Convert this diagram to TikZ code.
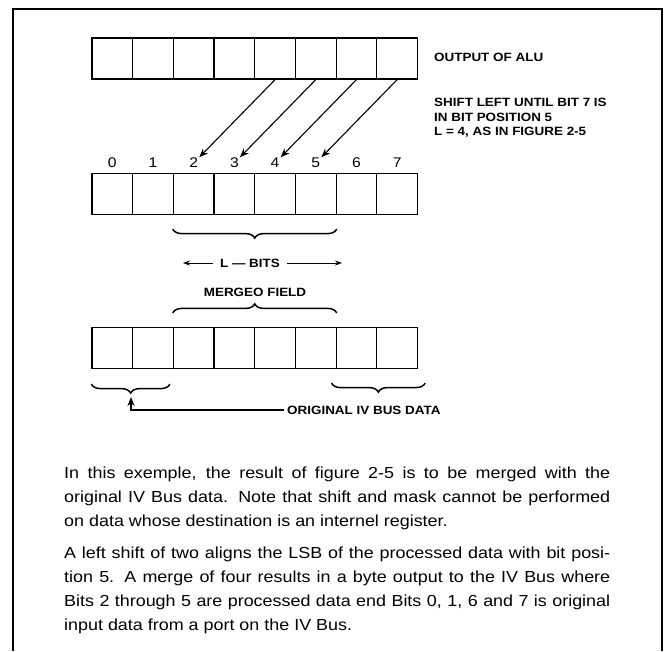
\documentclass[tikz,border=0pt]{standalone}
\usepackage{fontspec}
\setmainfont[FakeStretch=1.12]{Liberation Sans}
\usetikzlibrary{arrows.meta,decorations.pathreplacing}

\begin{document}
\begin{tikzpicture}[x=1pt,y=-1pt,
    cell/.style={draw,rectangle,line width=1.2pt,minimum width=40.7pt,minimum height=41pt,inner sep=0pt},
    lbl/.style={font=\fontsize{12}{14.5}\selectfont\bfseries,inner sep=0pt},
    num/.style={font=\fontsize{14}{16}\selectfont,inner sep=1pt},
    arr/.style={-{Stealth[length=9pt,width=7pt]},line width=1.1pt},
    brc/.style={decorate,decoration={brace,amplitude=9pt},line width=1.5pt}]
  \useasboundingbox (0,0) rectangle (669,651);
  \draw[line width=1.6pt] (13,651) -- (13,9) -- (662,9) -- (662,651);
  % registers and bit numbers
  \foreach \i in {0,...,7}{
    \node[cell] (T\i) at (112.3+40.7*\i,58.5){};
    \node[cell] (M\i) at (112.3+40.7*\i,194){};
    \node[cell] (B\i) at (112.3+40.7*\i,348){};
    \node[num] (N\i) at (112.3+40.7*\i,163){\i};
  }
  \foreach \j/\k in {4/2,5/3,6/4,7/5}
    \draw[arr] (T\j.south) -- (N\k);
  \node[lbl,anchor=west] (alu) at (434,57){OUTPUT OF ALU};
  \node[lbl,anchor=north west,align=left] (shift) at (434,98){SHIFT LEFT UNTIL BIT 7 IS\\IN BIT POSITION 5\\L = 4, AS IN FIGURE 2-5};
  % braces
  \draw[brc] ([yshift=-14pt]M5.south east) -- ([yshift=-14pt]M2.south west);
  \draw[brc] ([yshift=14pt]B2.north west) -- ([yshift=14pt]B5.north east);
  \draw[brc] ([xshift=-4pt,yshift=-15pt]B1.south east) -- ([yshift=-15pt]B0.south west);
  \draw[brc] ([xshift=7pt,yshift=-14pt]B7.south east) -- ([xshift=-4pt,yshift=-14pt]B6.south west);
  \node[lbl,inner sep=7pt] (lbits) at (250,263){L — BITS};
  \coordinate (lL) at (183,263);
  \coordinate (lR) at (342,263);
  \draw[-{Stealth[length=7pt,width=5pt]},line width=.8pt] (lbits.west) -- (lL);
  \draw[-{Stealth[length=7pt,width=5pt]},line width=.8pt] (lbits.east) -- (lR);
  \node[lbl] (merge) at (255,292){MERGEO FIELD};
  \node[lbl,anchor=west,inner sep=3pt] (orig) at (284,410){ORIGINAL IV BUS DATA};
  \coordinate (lo) at (131,397);
  \draw[arr] (orig.west) -| (lo);
  % text
  \node[anchor=north west,inner sep=0pt] (txt) at (64,467){\begin{minipage}{546pt}
    \fontsize{16}{24}\selectfont\setlength{\parskip}{8pt}\tolerance=10000\hyphenpenalty=10000
    In this exemple, the result of figure 2-5 is to be merged with the\linebreak
    original IV Bus data. Note that shift and mask cannot be performed\linebreak
    on data whose destination is an internel register.\par
    A left shift of two aligns the LSB of the processed data with bit posi-\linebreak
    tion 5. A merge of four results in a byte output to the IV Bus where\linebreak
    Bits 2 through 5 are processed data end Bits 0, 1, 6 and 7 is original\linebreak
    input data from a port on the IV Bus.
  \end{minipage}};
\end{tikzpicture}
\end{document}
